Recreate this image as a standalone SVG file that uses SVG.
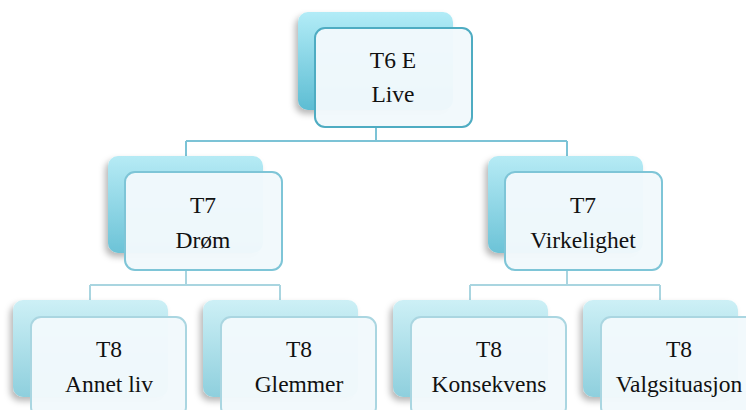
<svg xmlns="http://www.w3.org/2000/svg" width="746" height="410" viewBox="0 0 746 410">
  <defs>
    <linearGradient id="g1" x1="0" y1="0" x2="0" y2="1">
      <stop offset="0" stop-color="#b2ecf7"/>
      <stop offset="1" stop-color="#5dbdd3"/>
    </linearGradient>
    <linearGradient id="g2" x1="0" y1="0" x2="0" y2="1">
      <stop offset="0" stop-color="#b6ebf5"/>
      <stop offset="1" stop-color="#6cc3d7"/>
    </linearGradient>
    <linearGradient id="g3" x1="0" y1="0" x2="0" y2="1">
      <stop offset="0" stop-color="#cdf0f6"/>
      <stop offset="1" stop-color="#8ecfdd"/>
    </linearGradient>
    <filter id="shadow" x="-20%" y="-20%" width="140%" height="140%">
      <feDropShadow dx="-3" dy="4" stdDeviation="3" flood-color="#000" flood-opacity="0.28"/>
    </filter>
  </defs>
  <style>
    .back { filter: url(#shadow); }
    .front { fill: #f2f9fc; fill-opacity: 0.97; stroke-width: 2; }
    .l1 .back { fill: url(#g1); }
    .l1 .front { stroke: #4eacc2; }
    .l2 .back { fill: url(#g2); }
    .l2 .front { stroke: #7ec5d7; }
    .l3 .back { fill: url(#g3); }
    .l3 .front { stroke: #aad6e1; }
    .conn { fill: none; stroke-width: 2; }
    text { font-family: 'Liberation Serif', 'Times New Roman', serif; font-size: 23.5px; fill: #111; text-anchor: middle; }
  </style>

  <!-- connectors -->
  <g id="connectors">
    <path class="conn" stroke="#7cc3d6" d="M376 127 V141 M186 141 H567 M186 141 V172 M567 141 V172"/>
    <path class="conn" stroke="#a9d5e0" d="M186 270 V285 M90 285 H280 M90 285 V317 M280 285 V317"/>
    <path class="conn" stroke="#a9d5e0" d="M567 270 V285 M470 285 H660 M470 285 V317 M660 285 V317"/>
  </g>

  <!-- level 1 -->
  <g id="n-t6" class="l1">
    <rect class="back" x="298" y="12" width="155" height="98" rx="10"/>
    <rect class="front" x="315" y="28" width="157" height="99" rx="10"/>
    <text x="393" y="68">T6 E</text>
    <text x="393" y="102">Live</text>
  </g>

  <!-- level 2 -->
  <g id="n-drom" class="l2">
    <rect class="back" x="108" y="156" width="155" height="97" rx="10"/>
    <rect class="front" x="125" y="172" width="157" height="98" rx="10"/>
    <text x="203" y="213">T7</text>
    <text x="203" y="248">Drøm</text>
  </g>
  <g id="n-virkelighet" class="l2">
    <rect class="back" x="488" y="156" width="155" height="97" rx="10"/>
    <rect class="front" x="505" y="172" width="157" height="98" rx="10"/>
    <text x="583" y="213">T7</text>
    <text x="583" y="248">Virkelighet</text>
  </g>

  <!-- level 3 -->
  <g id="n-annet" class="l3">
    <rect class="back" x="13" y="300" width="155" height="97" rx="10"/>
    <rect class="front" x="31" y="317" width="155" height="100" rx="10"/>
    <text x="109" y="357">T8</text>
    <text x="109" y="392">Annet liv</text>
  </g>
  <g id="n-glemmer" class="l3">
    <rect class="back" x="203" y="300" width="155" height="97" rx="10"/>
    <rect class="front" x="221" y="317" width="155" height="100" rx="10"/>
    <text x="299" y="357">T8</text>
    <text x="299" y="392">Glemmer</text>
  </g>
  <g id="n-konsekvens" class="l3">
    <rect class="back" x="393" y="300" width="155" height="97" rx="10"/>
    <rect class="front" x="411" y="317" width="155" height="100" rx="10"/>
    <text x="489" y="357">T8</text>
    <text x="489" y="392">Konsekvens</text>
  </g>
  <g id="n-valg" class="l3">
    <rect class="back" x="583" y="300" width="155" height="97" rx="10"/>
    <rect class="front" x="601" y="317" width="155" height="100" rx="10"/>
    <text x="679" y="357">T8</text>
    <text x="679" y="392">Valgsituasjon</text>
  </g>
</svg>
